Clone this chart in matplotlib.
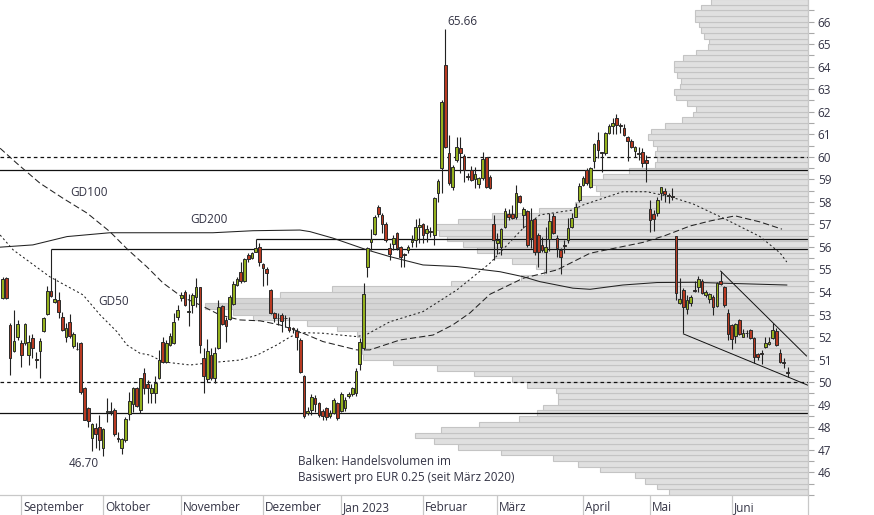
import numpy as np
import matplotlib
matplotlib.use('Agg')
import matplotlib.pyplot as plt
from matplotlib.ticker import FixedLocator, MultipleLocator, NullFormatter

plt.rcParams['font.family'] = ['Open Sans', 'DejaVu Sans']
plt.rcParams['lines.scale_dashes'] = False

# daily candles, index 0 = 25 Aug 2022 (trading days)
opens = [53.72, 54.60, 52.54, 51.40, 52.00, 51.73, 51.73, 51.21, 51.95, 51.02,
         51.40, 52.27, 53.01, 54.05, 53.56, 53.63, 52.89, 51.99, 52.66, 51.62,
         51.48, 51.73, 49.73, 48.84, 47.54, 47.98, 48.02, 47.06, 48.67, 48.70,
         48.77, 47.50, 47.06, 47.43, 48.57, 49.02, 49.73, 48.77, 50.42, 49.92,
         49.53, 49.51, 50.17, 51.80, 50.91, 51.65, 51.73, 52.88, 53.75, 54.02,
         53.12, 53.43, 53.77, 54.21, 51.09, 50.13, 51.20, 50.17, 51.50, 53.38,
         52.76, 52.79, 53.47, 54.31, 54.90, 54.51, 55.65, 55.50, 55.79, 55.99,
         55.25, 55.02, 54.09, 53.06, 52.84, 52.97, 52.84, 52.46, 52.36, 52.29,
         51.87, 50.27, 48.62, 48.77, 49.28, 49.06, 48.74, 48.84, 48.50, 48.65,
         49.06, 48.74, 48.84, 49.39, 49.48, 49.50, 50.80, 51.50, 55.10, 56.24,
         56.58, 57.76, 57.42, 57.02, 55.97, 56.13, 56.63, 55.98, 55.65, 55.87,
         56.20, 56.31, 56.87, 57.02, 56.63, 56.67, 56.53, 58.38, 59.49, 64.08,
         60.16, 58.68, 59.86, 60.38, 60.04, 59.13, 59.42, 59.00, 58.80, 59.05,
         59.98, 59.09, 57.02, 56.19, 56.01, 56.90, 57.46, 57.45, 57.32, 58.26,
         57.42, 57.60, 56.38, 57.23, 56.53, 56.09, 55.79, 56.34, 57.38, 56.39,
         55.87, 56.07, 56.31, 56.90, 57.35, 58.09, 58.75, 59.42, 58.68, 59.83,
         60.75, 60.20, 60.16, 61.05, 61.37, 61.71, 61.38, 61.27, 60.87, 60.72,
         60.28, 60.13, 60.23, 59.86, 57.67, 57.46, 57.49, 58.41, 58.50, 58.27,
         58.24, 56.49, 53.53, 54.09, 53.23, 53.53, 54.07, 54.21, 54.50, 53.87,
         53.68, 53.80, 53.38, 54.49, 54.21, 53.08, 52.54, 52.05, 52.76, 52.02,
         52.18, 52.32, 51.95, 51.24, 51.26, 51.55, 51.69, 51.95, 52.29, 51.28,
         50.88, 50.43]
highs = [54.65, 54.65, 52.63, 53.20, 52.76, 51.87, 52.62, 52.10, 52.13, 51.35,
         51.95, 52.91, 54.28, 55.90, 54.62, 54.02, 53.13, 52.61, 53.01, 52.24,
         51.77, 51.77, 49.79, 48.91, 48.17, 48.17, 48.54, 47.98, 49.28, 49.13,
         48.84, 47.80, 47.53, 48.43, 49.58, 49.80, 49.80, 50.20, 50.62, 50.10,
         49.91, 50.28, 51.43, 52.02, 51.87, 52.17, 53.06, 53.43, 54.00, 54.09,
         53.90, 53.94, 54.61, 54.24, 51.50, 51.90, 51.50, 51.58, 53.65, 53.43,
         52.88, 53.87, 54.51, 54.68, 55.35, 55.50, 55.72, 55.79, 56.34, 56.19,
         55.30, 55.10, 54.12, 53.13, 53.09, 53.06, 52.98, 52.88, 52.46, 52.38,
         51.94, 50.32, 48.91, 49.48, 49.43, 49.13, 48.80, 48.91, 48.75, 49.28,
         49.13, 49.54, 49.36, 49.58, 49.80, 50.61, 51.94, 54.38, 56.01, 56.78,
         57.42, 57.86, 57.49, 57.12, 56.16, 56.53, 56.68, 56.04, 55.72, 56.08,
         56.53, 57.22, 57.27, 57.05, 56.98, 56.90, 58.23, 59.00, 62.52, 65.66,
         60.97, 59.64, 60.90, 60.90, 60.13, 59.27, 59.60, 59.57, 59.12, 60.23,
         60.01, 59.19, 57.42, 56.60, 56.83, 57.72, 57.70, 57.88, 58.75, 58.30,
         57.76, 57.65, 57.72, 57.27, 56.60, 56.46, 56.90, 57.52, 57.52, 56.53,
         55.94, 56.31, 57.27, 57.49, 57.94, 58.83, 59.15, 59.49, 59.57, 60.60,
         61.12, 60.23, 61.12, 61.46, 61.71, 61.90, 61.52, 61.46, 60.93, 60.78,
         60.48, 60.45, 60.38, 60.08, 58.08, 57.64, 58.20, 58.68, 58.60, 58.41,
         58.60, 56.49, 54.61, 54.16, 53.87, 53.87, 54.50, 54.71, 54.56, 54.09,
         53.97, 53.87, 54.46, 54.93, 54.27, 53.23, 52.58, 52.61, 52.79, 52.35,
         52.32, 52.35, 51.99, 51.31, 51.43, 51.99, 51.99, 52.61, 52.39, 51.46,
         51.06, 50.69]
lows = [53.70, 53.70, 50.32, 51.34, 51.87, 50.69, 51.66, 50.76, 51.07, 50.62,
        50.20, 52.22, 52.98, 53.78, 53.50, 52.84, 52.27, 51.77, 51.95, 51.53,
        51.43, 49.46, 48.30, 48.02, 46.95, 47.09, 46.99, 46.70, 48.25, 48.54,
        47.62, 47.36, 46.80, 47.36, 48.32, 48.69, 48.90, 48.63, 49.48, 49.08,
        49.09, 49.06, 50.15, 50.87, 50.87, 51.61, 51.70, 52.76, 53.60, 53.38,
        52.47, 53.08, 53.35, 51.28, 49.53, 50.02, 50.10, 49.95, 51.46, 52.54,
        51.76, 52.76, 53.43, 54.27, 54.42, 54.46, 55.35, 55.45, 55.79, 55.16,
        54.27, 54.31, 53.03, 52.69, 52.54, 52.24, 52.43, 52.24, 52.17, 51.43,
        50.42, 48.40, 48.54, 48.54, 48.69, 48.47, 48.32, 48.32, 48.40, 48.58,
        48.30, 48.69, 48.74, 49.28, 49.39, 49.39, 50.54, 51.43, 54.68, 55.87,
        56.53, 57.34, 56.60, 56.24, 55.42, 55.87, 55.87, 55.13, 55.10, 55.72,
        56.01, 56.01, 56.19, 56.19, 56.24, 56.43, 56.09, 58.01, 58.41, 60.38,
        58.75, 58.53, 59.79, 59.30, 58.90, 58.97, 58.94, 58.60, 58.60, 58.97,
        58.60, 58.55, 55.42, 55.69, 55.65, 56.83, 57.20, 57.22, 57.22, 57.95,
        56.83, 56.01, 55.94, 55.65, 55.13, 55.79, 54.83, 55.84, 56.58, 55.57,
        54.80, 55.72, 56.16, 56.83, 57.35, 58.01, 58.71, 58.75, 58.60, 59.49,
        59.94, 59.34, 60.09, 61.00, 61.01, 61.00, 61.05, 60.93, 59.82, 60.41,
        60.01, 59.86, 59.56, 58.90, 56.68, 56.72, 57.38, 58.08, 58.01, 57.97,
        58.08, 53.65, 53.48, 52.17, 53.02, 53.40, 54.00, 54.02, 53.91, 53.80,
        53.53, 52.98, 53.32, 54.31, 53.32, 51.87, 51.46, 51.72, 52.09, 51.99,
        52.02, 51.90, 50.84, 50.98, 50.81, 51.50, 51.65, 51.90, 51.60, 50.87,
        50.61, 50.21]
closes = [54.58, 53.72, 51.06, 51.83, 52.57, 51.21, 52.57, 51.77, 51.50, 51.00,
          51.84, 52.84, 54.05, 53.84, 53.69, 53.10, 52.30, 52.39, 52.06, 52.14,
          51.45, 49.55, 48.34, 48.28, 48.13, 47.69, 47.42, 47.92, 48.72, 48.69,
          47.69, 47.48, 47.46, 48.37, 49.16, 49.73, 48.96, 50.17, 49.73, 49.73,
          49.73, 49.95, 50.98, 50.91, 51.73, 52.05, 52.69, 53.20, 53.88, 53.43,
          53.15, 53.87, 54.24, 51.65, 50.25, 51.38, 50.17, 51.28, 53.35, 52.58,
          52.51, 53.77, 54.36, 54.57, 54.51, 55.45, 55.45, 55.72, 55.94, 55.35,
          55.05, 54.83, 53.09, 52.83, 52.83, 52.73, 52.83, 52.32, 52.35, 52.02,
          50.47, 48.50, 48.74, 49.36, 49.03, 48.54, 48.50, 48.47, 48.65, 49.21,
          48.39, 49.48, 49.21, 49.48, 49.73, 50.51, 51.80, 53.91, 55.94, 56.34,
          57.34, 57.45, 57.02, 56.31, 55.69, 56.38, 55.94, 55.54, 55.64, 55.98,
          56.31, 56.87, 56.96, 56.53, 56.78, 56.66, 58.16, 58.93, 62.45, 60.45,
          58.83, 59.57, 60.45, 60.16, 59.42, 59.12, 58.97, 59.24, 59.05, 59.89,
          58.68, 58.60, 56.31, 56.31, 56.78, 57.60, 57.35, 57.27, 58.41, 58.01,
          57.67, 56.09, 57.20, 55.79, 55.79, 55.87, 56.01, 57.17, 56.64, 55.94,
          55.54, 56.06, 56.83, 57.27, 57.76, 58.71, 59.05, 58.83, 59.49, 60.56,
          60.31, 60.19, 61.05, 61.37, 61.49, 61.39, 61.37, 60.97, 60.68, 60.45,
          60.42, 60.12, 59.74, 59.74, 57.20, 57.23, 58.08, 58.64, 58.35, 58.26,
          58.23, 53.94, 53.69, 53.32, 53.65, 53.77, 54.06, 54.56, 53.94, 54.02,
          53.91, 53.35, 54.39, 54.36, 53.42, 52.14, 51.90, 52.58, 52.14, 52.20,
          52.17, 51.95, 51.13, 51.10, 51.25, 51.75, 51.80, 52.32, 51.65, 50.91,
          50.87, 50.42]

# moving averages, read as (trading-day index, value)
gd50_x = [-0.7, 2.8, 12.7, 21.6, 26.2, 30.7, 33.4, 36.9, 39.6, 43.1, 50.4, 55.7,
          63.8, 68.4, 73.7, 77.2, 79.9, 86.1, 90.7, 95.2, 97.9, 104.1, 113.0,
          122.1, 131.0, 139.9, 144.4, 153.3, 156.0, 161.4, 166.7, 173.2, 179.4,
          185.6, 194.7, 203.6, 209.0, 210.8]
gd50_y = [56.53, 55.87, 54.67, 53.87, 52.98, 52.24, 51.65, 51.28, 51.20, 50.90,
          50.76, 50.86, 50.98, 51.20, 51.65, 52.00, 52.20, 52.17, 52.09, 52.02,
          52.12, 52.68, 53.13, 54.09, 55.28, 56.83, 57.42, 57.64, 57.86, 58.16,
          58.45, 58.45, 58.23, 57.91, 57.20, 56.46, 55.73, 55.33]
gd100_x = [-0.7, 3.8, 10.0, 16.2, 22.7, 28.8, 33.7, 38.8, 43.1, 48.2, 53.0, 58.4,
           63.8, 69.2, 74.5, 79.9, 86.1, 95.2, 98.7, 106.8, 115.7, 121.0, 125.6,
           131.0, 139.9, 149.0, 157.9, 172.1, 178.0, 184.8, 190.1, 196.9, 203.6,
           209.5]
gd100_y = [60.38, 59.71, 58.83, 58.16, 57.50, 56.68, 55.87, 55.11, 54.40, 53.78,
           53.43, 52.98, 52.76, 52.72, 52.54, 52.23, 51.80, 51.43, 51.43, 51.87,
           52.09, 52.54, 53.07, 53.90, 54.61, 54.98, 55.72, 56.20, 56.50, 56.93,
           57.15, 57.38, 57.11, 56.79]
gd200_x = [-0.7, 8.1, 17.3, 28.8, 44.2, 56.5, 67.3, 79.9, 82.6, 88.8, 97.9, 104.1,
           113.0, 122.1, 133.7, 139.9, 144.4, 153.3, 157.9, 166.7, 175.9, 185.6,
           210.8]
gd200_y = [55.99, 56.09, 56.46, 56.63, 56.63, 56.63, 56.72, 56.75, 56.68, 56.39,
           55.87, 55.57, 55.20, 55.13, 54.90, 54.68, 54.46, 54.17, 54.12, 54.31,
           54.42, 54.43, 54.31]

# volume profile: bins of EUR 0.25 from 45.00 upwards (relative volume)
vol_bins = np.arange(45.0, 67.0, 0.25)
vol_profile = [139, 151, 163, 173, 208, 230, 255, 307, 350, 374, 393, 367,
               329, 289, 271, 265, 250, 250, 252, 281, 296, 334, 371, 415,
               445, 446, 446, 446, 451, 471, 501, 555, 575, 603, 575, 528,
               476, 357, 287, 264, 272, 296, 314, 331, 345, 361, 369, 373,
               350, 316, 269, 233, 230, 208, 212, 216, 205, 179, 153, 151,
               153, 151, 155, 160, 157, 143, 126, 115, 112, 121, 132, 134,
               128, 127, 131, 134, 134, 125, 112, 100, 99, 104, 107, 109,
               113, 113, 107, 97]

month_names = ['September', 'Oktober', 'November', 'Dezember', 'Jan 2023',
               'Februar', 'März', 'April', 'Mai', 'Juni']
month_start = [5, 27, 48, 70, 91, 113, 133, 156, 174, 196]

XMIN, XMAX = -0.73, 216.5
txt_col = '#333344'
grid_col = '#c8c8c8'

fig = plt.figure(figsize=(8.74, 5.15), dpi=100)
ax = fig.add_axes([0, 20 / 515, 808 / 874, 495 / 515])
axv = ax.twiny()

# volume bars behind the price chart
bar_cols = ['#d5d5d5' if 53.0 <= b < 53.75 else '#e0e0e0' for b in vol_bins]
axv.barh(vol_bins, vol_profile, height=0.25, left=0, align='edge',
         color=bar_cols, edgecolor='#c4c4c4', linewidth=0.8)
axv.set_xlim(808, 0)
axv.axis('off')
ax.set_zorder(axv.get_zorder() + 1)
ax.patch.set_visible(False)

# support / resistance lines
ax.axhline(60.0, color='#111111', lw=0.9, ls=(0, (2.6, 2.2)))
ax.axhline(59.42, color='#111111', lw=0.9)
ax.axhline(50.0, color='#111111', lw=0.9, ls=(0, (2.6, 2.2)))
ax.axhline(48.63, color='#111111', lw=0.9)
ax.hlines(55.90, 13, XMAX, color='#111111', lw=0.9)
ax.hlines(56.34, 68, XMAX, color='#111111', lw=0.9)

# trend channel
ax.plot([193, 216.1], [54.93, 51.16], color='#111111', lw=0.7)
ax.plot([183, 216.5], [52.14, 49.86], color='#111111', lw=0.7)

# moving averages
ax.plot(gd200_x, gd200_y, color='#222222', lw=0.75)
ax.plot(gd100_x, gd100_y, color='#222222', lw=0.75, ls=(0, (4.5, 2.2)))
ax.plot(gd50_x, gd50_y, color='#222222', lw=0.75, ls=(0, (1.5, 1.8)))

# candles
idx = np.arange(len(opens))
o = np.array(opens)
c = np.array(closes)
body_lo = np.minimum(o, c)
body_h = np.maximum(np.abs(c - o), 0.03)
cols = np.where(c >= o, '#94b11e', '#b83a22')
ax.vlines(idx, lows, highs, color='#222222', lw=0.8, zorder=3)
ax.bar(idx, body_h, bottom=body_lo, width=0.72, color=cols,
       edgecolor='#2a2a2a', linewidth=0.7, zorder=4)

# annotations
ax.text(123.7, 65.99, '65.66', ha='center', va='center', fontsize=8.5, color=txt_col)
ax.text(21.9, 46.37, '46.70', ha='center', va='center', fontsize=8.5, color=txt_col)
ax.text(23.1, 58.42, 'GD100', ha='center', va='center', fontsize=8.5, color=txt_col)
ax.text(55.5, 57.22, 'GD200', ha='center', va='center', fontsize=8.5, color=txt_col)
ax.text(29.9, 53.56, 'GD50', ha='center', va='center', fontsize=8.5, color=txt_col)
ax.text(79.4, 46.75, 'Balken: Handelsvolumen im\nBasiswert pro EUR 0.25 (seit März 2020)',
        ha='left', va='top', fontsize=8.5, color=txt_col, linespacing=1.25)

ax.set_xlim(XMIN, XMAX)
ax.set_ylim(44.99, 66.96)

# axes styling
for s in ['top', 'left']:
    ax.spines[s].set_visible(False)
for s in ['right', 'bottom']:
    ax.spines[s].set_color(grid_col)
    ax.spines[s].set_linewidth(0.9)

ax.yaxis.tick_right()
ax.yaxis.set_major_locator(FixedLocator(np.arange(46, 67)))
ax.yaxis.set_minor_locator(MultipleLocator(0.5))
ax.yaxis.set_minor_formatter(NullFormatter())
ax.tick_params(axis='y', which='both', direction='out', length=4, width=0.8,
               color='#a8a8a8', labelsize=8.5, labelcolor=txt_col, pad=3)

ax.set_xticks(month_start + [XMAX])
ax.set_xticklabels([])
ax.tick_params(axis='x', direction='out', length=15, width=0.9, color=grid_col)
for m, name in zip(month_start, month_names):
    ax.text(m + 0.5, -0.0245, name, transform=ax.get_xaxis_transform(),
            ha='left', va='center', fontsize=8.5, color=txt_col)

fig.savefig('out.png', dpi=100)
